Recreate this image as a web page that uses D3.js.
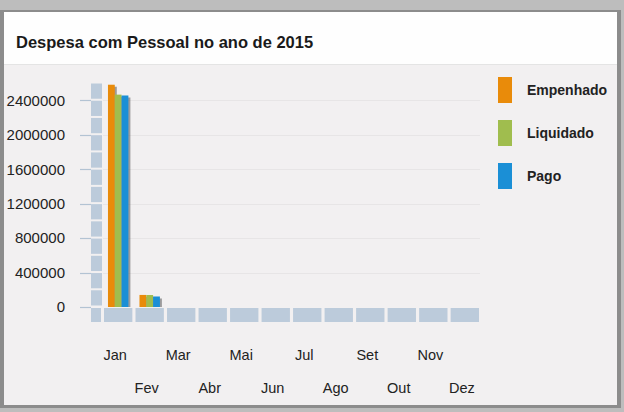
<!DOCTYPE html>
<html>
<head>
<meta charset="utf-8">
<script src="https://cdn.jsdelivr.net/npm/d3@7"></script>
<style>
  body { margin: 0; background: #bdbdbd; }
  svg { display: block; font-family: "Liberation Sans", Arial, sans-serif; }
</style>
</head>
<body>
<div id="chart"></div>
<script>
const months = ["Jan", "Fev", "Mar", "Abr", "Mai", "Jun", "Jul", "Ago", "Set", "Out", "Nov", "Dez"];
const series = ["Empenhado", "Liquidado", "Pago"];
const empenhado = [2580000, 140000, 0, 0, 0, 0, 0, 0, 0, 0, 0, 0];
const liquidado = [2465000, 139000, 0, 0, 0, 0, 0, 0, 0, 0, 0, 0];
const pago = [2455000, 122000, 0, 0, 0, 0, 0, 0, 0, 0, 0, 0];
const yTicks = [0, 400000, 800000, 1200000, 1600000, 2000000, 2400000];

const colors = { Empenhado: "#e98b0a", Liquidado: "#a0bd4e", Pago: "#1b8fd6" };
const values = { Empenhado: empenhado, Liquidado: liquidado, Pago: pago };

const width = 624, height = 412;
const svg = d3.select("#chart").append("svg")
  .attr("width", width).attr("height", height);

// frame
svg.append("rect").attr("width", width).attr("height", height).attr("fill", "#bdbdbd");
svg.append("rect").attr("x", 0).attr("y", 10).attr("width", 621).attr("height", 398).attr("fill", "#8c8c8c");
svg.append("rect").attr("x", 4).attr("y", 12).attr("width", 613).attr("height", 393).attr("fill", "#f2f0f1");
svg.append("rect").attr("x", 4).attr("y", 12).attr("width", 613).attr("height", 52).attr("fill", "#fefefe");
svg.append("line").attr("x1", 4).attr("x2", 617).attr("y1", 64.5).attr("y2", 64.5).attr("stroke", "#e4e4e4");

svg.append("text")
  .attr("x", 16).attr("y", 47.5)
  .attr("font-size", 16.5).attr("font-weight", "bold").attr("fill", "#1a1a1a")
  .text("Despesa com Pessoal no ano de 2015");

const y = d3.scaleLinear([0, 2600000], [307, 83]);
const x = d3.scaleBand(months, [104, 479]).paddingInner(0.1).paddingOuter(0);

const wallX0 = 91, wallX1 = 103, floorY0 = 308, floorY1 = 322;
const blockFill = "#bccbdb";

// wall blocks
const wallSteps = d3.range(0, 2600000, 200000);
svg.append("g").selectAll("rect").data(wallSteps).join("rect")
  .attr("x", wallX0).attr("width", wallX1 - wallX0 - 1)
  .attr("y", (d) => y(d + 200000) + 0.5)
  .attr("height", (d) => y(d) - y(d + 200000) - 2)
  .attr("fill", blockFill);

// floor
svg.append("rect").attr("x", wallX0).attr("y", floorY0).attr("width", 10).attr("height", floorY1 - floorY0).attr("fill", blockFill);
svg.append("g").selectAll("rect").data(months).join("rect")
  .attr("x", (d) => x(d)).attr("y", floorY0)
  .attr("width", x.bandwidth()).attr("height", floorY1 - floorY0)
  .attr("fill", blockFill);

// grid + ticks
const grid = svg.append("g");
grid.selectAll("line.grid").data(yTicks.filter((d) => d > 0)).join("line")
  .attr("class", "grid")
  .attr("x1", wallX1).attr("x2", 480)
  .attr("y1", (d) => Math.round(y(d)) + 0.5).attr("y2", (d) => Math.round(y(d)) + 0.5)
  .attr("stroke", "#e7e5e6");
grid.selectAll("line.tick").data(yTicks).join("line")
  .attr("class", "tick")
  .attr("x1", 80).attr("x2", wallX0)
  .attr("y1", (d) => Math.round(y(d)) + 0.5).attr("y2", (d) => Math.round(y(d)) + 0.5)
  .attr("stroke", "#b3c3d3").attr("stroke-width", 1.2);
grid.selectAll("text").data(yTicks).join("text")
  .attr("x", 65).attr("y", (d) => y(d)).attr("dy", "0.36em")
  .attr("text-anchor", "end").attr("font-size", 15).attr("fill", "#222")
  .text((d) => d);

// bars
const xSub = d3.scaleBand(series, [0, x.bandwidth() * 0.72]);
const groupOffset = (x.bandwidth() - xSub.range()[1]) / 2;
const barsData = months.flatMap((m, i) => series.map((s) => ({ m, s, v: values[s][i] })))
  .filter((d) => d.v > 0);
const bars = svg.append("g");
barsData.forEach((d) => {
  const bx = x(d.m) + groupOffset + xSub(d.s);
  bars.append("rect")
    .attr("x", bx + 2).attr("y", y(d.v) + 2)
    .attr("width", xSub.bandwidth()).attr("height", y(0) - y(d.v) - 2)
    .attr("fill", "#555").attr("opacity", 0.55);
  bars.append("rect")
    .attr("x", bx).attr("y", y(d.v))
    .attr("width", xSub.bandwidth()).attr("height", y(0) - y(d.v))
    .attr("fill", colors[d.s]);
});

// x labels, staggered
svg.append("g").selectAll("text").data(months).join("text")
  .attr("x", (d) => x(d) + x.bandwidth() / 2 - 3)
  .attr("y", (d, i) => (i % 2 === 0 ? 360 : 393))
  .attr("text-anchor", "middle").attr("font-size", 14.5).attr("fill", "#222")
  .text((d) => d);

// legend
const legend = svg.append("g").selectAll("g").data(series).join("g")
  .attr("transform", (d, i) => `translate(498,${77 + i * 43})`);
legend.append("rect").attr("width", 14).attr("height", 26).attr("fill", (d) => colors[d]);
legend.append("text")
  .attr("x", 29).attr("y", 13).attr("dy", "0.36em")
  .attr("font-size", 14).attr("font-weight", "bold").attr("fill", "#222")
  .text((d) => d);
</script>
</body>
</html>
